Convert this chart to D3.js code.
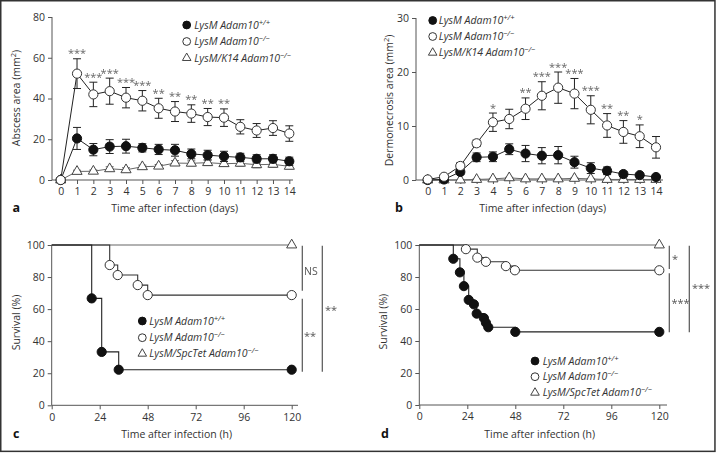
<!DOCTYPE html>
<html><head><meta charset="utf-8">
<script src="https://cdn.jsdelivr.net/npm/d3@7"></script>
<style>body{margin:0;background:#fff}svg{display:block;font-family:"Open Sans",sans-serif}.ast{filter:grayscale(1)}</style>
</head><body><svg id="c" width="716" height="453"></svg>
<script>
// ---------- DATA ----------
const days = [0,1,2,3,4,5,6,7,8,9,10,11,12,13,14];
const abscessTicks = [0,20,40,60,80];
const dermTicks = [0,10,20,30];
const survTicksY = [0,20,40,60,80,100];
const survTicksX = [0,24,48,72,96,120];

const abscessWT    = [0,20.4,14.9,16.4,16.6,15.8,15.0,14.6,12.8,12.2,11.6,11.1,10.4,10.4,9.2];
const abscessWTErr = [0,5.4,3.0,3.4,3.4,2.0,2.5,2.9,2.4,2.4,2.5,2.0,2.0,2.0,2.0];
const abscessKO    = [0,52.2,42.0,43.6,40.4,38.9,35.2,33.6,32.6,30.9,30.6,26.1,24.3,25.5,22.8];
const abscessKOErr = [0,7.3,6.0,6.4,5.0,5.0,4.9,4.9,4.3,4.2,4.3,3.5,3.4,3.6,3.8];
const abscessK14   = [0,4.2,4.3,5.5,5.0,6.5,6.8,8.3,8.2,8.5,8.0,8.2,7.5,7.7,6.7];
const abscessK14Err= [0,0.6,0.6,1.0,1.0,0.8,0.8,1.2,1.2,1.4,1.2,1.4,1.5,1.5,1.2];
const abscessStars = ["","***","***","***","***","***","**","**","**","**","**","","","",""];

const dermWT    = [0,0.1,1.5,4.2,4.3,5.7,4.9,4.5,4.6,3.3,2.2,1.7,1.1,0.9,0.55];
const dermWTErr = [0,0.1,0.5,0.8,0.9,1.0,1.5,1.5,1.6,1.1,1.0,0.7,0.5,0.3,0.3];
const dermKO    = [0.1,0.6,2.6,6.8,10.7,11.3,13.2,15.6,17.1,16.0,13.0,10.1,8.9,8.1,6.05];
const dermKOErr = [0,0.3,0.6,0.6,1.7,1.8,2.0,2.6,2.9,2.8,2.6,2.2,2.1,2.1,2.0];
const dermK14   = [0,0,0,0.1,0.2,0.4,0.2,0.2,0.2,0.3,0.2,0.1,0.1,0.1,0.1];
const dermK14Err= [0,0,0,0.1,0.1,0.1,0.1,0.1,0.1,0.1,0.1,0.1,0.1,0.1,0.1];
const dermStars = ["","","","","*","","**","***","***","***","***","**","**","*",""];

// survival (c)
const cWTTime = [0,20,25,33.5,120];
const cWTSurv = [100,66.7,33.3,22.2,22.2];
const cKOTime = [0,29,33,43,48,120];
const cKOSurv = [100,87.5,81.25,75,68.75,68.75];
const cSpcTime = [0,120];
const cSpcSurv = [100,100];
// survival (d)
const dWTTime = [0,17,20.3,22.3,24.7,27.3,28.7,32.3,33.3,34.5,48,120];
const dWTSurv = [100,91.4,82.9,74.3,65.7,62.9,57.1,54.3,51.4,48.6,45.7,45.7];
const dKOTime = [0,23.3,29,33.3,43.3,47.8,120];
const dKOSurv = [100,97.4,92.1,89.5,86.8,84.2,84.2];
const dSpcTime = [0,120];
const dSpcSurv = [100,100];

const legendTop = [
  {type:"filled", label:"LysM Adam10", sup:"+/+"},
  {type:"open", label:"LysM Adam10", sup:"\u2212/\u2212"},
  {type:"tri", label:"LysM/K14 Adam10", sup:"\u2212/\u2212"}
];
const legendBottom = [
  {type:"filled", label:"LysM Adam10", sup:"+/+"},
  {type:"open", label:"LysM Adam10", sup:"\u2212/\u2212"},
  {type:"tri", label:"LysM/SpcTet Adam10", sup:"\u2212/\u2212"}
];

// ---------- DRAW ----------
const svg = d3.select("#c");
svg.append("rect").attr("width",716).attr("height",453).attr("fill","#fff");
svg.append("rect").attr("x",0.75).attr("y",0.75).attr("width",714.2).attr("height",450.6)
  .attr("fill","none").attr("stroke","#333").attr("stroke-width",1.5);

const FS = 10.5, AX = "#555", TX = "#333";

function styleAxis(g){
  g.select(".domain").remove();
  g.selectAll(".tick line").attr("stroke",AX).attr("stroke-width",1);
  g.selectAll(".tick text").attr("fill",TX).style("font-size",FS+"px").style("font-family","'Open Sans',sans-serif");
}
function axes(g, x, y, yTicks, xTicks, x0, xAxisEnd){
  const ya = g.append("g").attr("transform",`translate(${x0},0)`)
    .call(d3.axisLeft(y).tickValues(yTicks).tickSize(4).tickPadding(3));
  styleAxis(ya);
  g.append("line").attr("x1",x0).attr("x2",x0).attr("y1",y.range()[1]).attr("y2",y.range()[0]).attr("stroke",AX);
  const xa = g.append("g").attr("transform",`translate(0,${y.range()[0]})`)
    .call(d3.axisBottom(x).tickValues(xTicks).tickSize(4).tickPadding(4));
  styleAxis(xa);
  g.append("line").attr("x1",x0).attr("x2",xAxisEnd).attr("y1",y.range()[0]).attr("y2",y.range()[0]).attr("stroke",AX);
}
function marker(g, type, cx, cy, r){
  if(type==="tri"){
    g.append("path").attr("d",d3.symbol(d3.symbolTriangle, r*r*2.1)())
      .attr("transform",`translate(${cx},${cy})`).attr("fill","#fff").attr("stroke","#444").attr("stroke-width",1);
  } else {
    g.append("circle").attr("cx",cx).attr("cy",cy).attr("r",r)
      .attr("fill", type==="filled" ? "#111" : "#fff")
      .attr("stroke", type==="filled" ? "#111" : "#333").attr("stroke-width",1);
  }
}
function series(g, x, y, vals, errs, type){
  const col = type==="tri" ? "#666" : "#222";
  g.append("path").datum(days.map((d,i)=>[x(d),y(vals[i])])).attr("d",d3.line())
    .attr("fill","none").attr("stroke",col).attr("stroke-width",1);
  days.forEach((d,i)=>{
    const e = errs[i]; if(!e) return;
    const cx = x(d), t = y(vals[i]+e), b = y(vals[i]-e);
    g.append("path").attr("d",`M${cx},${t}V${b}M${cx-4},${t}H${cx+4}M${cx-4},${b}H${cx+4}`)
      .attr("stroke",col).attr("stroke-width",1).attr("fill","none");
  });
  days.forEach((d,i)=> marker(g, type, x(d), y(vals[i]), 4.6));
}
function stars(g, x, y, vals, errs, labels){
  const sg = g.append("g").attr("class","ast");
  days.forEach((d,i)=>{
    if(!labels[i]) return;
    sg.append("text").attr("x",x(d)).attr("y",y(vals[i]+errs[i]) - 1.5).attr("text-anchor","middle")
      .attr("fill","#666").style("font-size","11px").text(labels[i]);
  });
}
function legend(g, mx, tx, rows, items){
  items.forEach((it,i)=>{
    marker(g, it.type, mx, rows[i], 3.9);
    const t = g.append("text").attr("x",tx).attr("y",rows[i]+3.7).attr("fill",TX)
      .style("font-size",FS+"px").style("font-style","italic");
    t.append("tspan").text(it.label);
    t.append("tspan").attr("dy",-4).style("font-size","7.5px").text(it.sup);
  });
}
function yTitle(g, x, cy, main, sup){
  const t = g.append("text").attr("transform",`translate(${x},${cy}) rotate(-90)`)
    .attr("text-anchor","middle").attr("fill",TX).style("font-size",FS+"px");
  t.append("tspan").text(main);
  if(sup){
    t.append("tspan").attr("dy",-4).style("font-size","7.5px").text(sup);
    t.append("tspan").attr("dy",4).text(")");
  }
}
function xTitle(g, cx, y, s){
  g.append("text").attr("x",cx).attr("y",y).attr("text-anchor","middle").attr("fill",TX).style("font-size",FS+"px").text(s);
}
function panelLabel(g, x, y, s){
  g.append("text").attr("x",x).attr("y",y).attr("fill","#111").style("font-size","12.5px").style("font-weight","bold").text(s);
}

// Panel a
{
  const g = svg.append("g");
  const x = d3.scaleLinear().domain([0,14]).range([60.7,289.3]);
  const y = d3.scaleLinear().domain([0,80]).range([180,17]);
  axes(g, x, y, abscessTicks, days, 52, 293);
  series(g, x, y, abscessK14, abscessK14Err, "tri");
  series(g, x, y, abscessWT, abscessWTErr, "filled");
  series(g, x, y, abscessKO, abscessKOErr, "open");
  stars(g, x, y, abscessKO, abscessKOErr, abscessStars);
  legend(g, 186.7, 194.3, [25,41.5,58], legendTop);
  yTitle(g, 19.5, 98, "Abscess area (mm", "2");
  xTitle(g, 174.7, 212, "Time after infection (days)");
  panelLabel(g, 12.5, 212, "a");
}
// Panel b
{
  const g = svg.append("g");
  const x = d3.scaleLinear().domain([0,14]).range([427.7,656]);
  const y = d3.scaleLinear().domain([0,30]).range([180,18]);
  axes(g, x, y, dermTicks, days, 416, 663);
  series(g, x, y, dermK14, dermK14Err, "tri");
  series(g, x, y, dermWT, dermWTErr, "filled");
  series(g, x, y, dermKO, dermKOErr, "open");
  stars(g, x, y, dermKO, dermKOErr, dermStars);
  legend(g, 432.7, 438.7, [20.5,36.5,52.7], legendTop);
  yTitle(g, 393, 100.5, "Dermonecrosis area (mm", "2");
  xTitle(g, 542.7, 212, "Time after infection (days)");
  panelLabel(g, 395, 212, "b");
}
function survPanel(g, x, y, sets){
  sets.forEach(s=>{
    g.append("path").datum(s.t.map((t,i)=>[x(t),y(s.v[i])]))
      .attr("d",d3.line().curve(d3.curveStepAfter)).attr("fill","none")
      .attr("stroke",s.col).attr("stroke-width",1.1);
  });
  sets.forEach(s=>{
    s.t.forEach((t,i)=>{ if(i>0) marker(g, s.type, x(t), y(s.v[i]), 4.6); });
  });
}
function bracket(g, x, y, v0, v1, label, lx, ly){
  g.append("line").attr("x1",x).attr("x2",x).attr("y1",y(v0)).attr("y2",y(v1)).attr("stroke","#555").attr("stroke-width",1.2);
  g.append("g").attr("class","ast").append("text").attr("x",lx).attr("y",ly).attr("fill","#555")
    .style("font-size",label==="NS"?"10.5px":"11px").text(label);
}
// Panel c
{
  const g = svg.append("g");
  const x = d3.scaleLinear().domain([0,120]).range([51.7,291.7]);
  const y = d3.scaleLinear().domain([0,100]).range([405.3,245]);
  axes(g, x, y, survTicksY, survTicksX, 51.7, 298);
  survPanel(g, x, y, [
    {t:cSpcTime, v:cSpcSurv, type:"tri", col:"#666"},
    {t:cKOTime, v:cKOSurv, type:"open", col:"#333"},
    {t:cWTTime, v:cWTSurv, type:"filled", col:"#222"}
  ]);
  bracket(g, 302.3, y, 99.6, 71.5, "NS", 304, 275);
  bracket(g, 302.3, y, 66.5, 21, "**", 304, 340);
  bracket(g, 322.3, y, 99.6, 21, "**", 325, 313.5);
  legend(g, 142.3, 149.3, [321,337.7,353.7], legendBottom);
  yTitle(g, 19.5, 322.5, "Survival (%)");
  xTitle(g, 176.7, 437.5, "Time after infection (h)");
  panelLabel(g, 13, 437.5, "c");
}
// Panel d
{
  const g = svg.append("g");
  const x = d3.scaleLinear().domain([0,120]).range([419.3,659.3]);
  const y = d3.scaleLinear().domain([0,100]).range([405,245]);
  axes(g, x, y, survTicksY, survTicksX, 419.3, 667);
  survPanel(g, x, y, [
    {t:dSpcTime, v:dSpcSurv, type:"tri", col:"#666"},
    {t:dKOTime, v:dKOSurv, type:"open", col:"#333"},
    {t:dWTTime, v:dWTSurv, type:"filled", col:"#222"}
  ]);
  bracket(g, 669.3, y, 99.6, 85, "*", 672, 263);
  bracket(g, 669.3, y, 82.3, 45.4, "***", 671.5, 306.5);
  bracket(g, 689.3, y, 99.6, 45.4, "***", 692, 291.5);
  legend(g, 535, 542.7, [361,376.7,392.7], legendBottom);
  yTitle(g, 386.5, 321.7, "Survival (%)");
  xTitle(g, 539.7, 437.5, "Time after infection (h)");
  panelLabel(g, 381, 437.5, "d");
}
</script></body></html>
